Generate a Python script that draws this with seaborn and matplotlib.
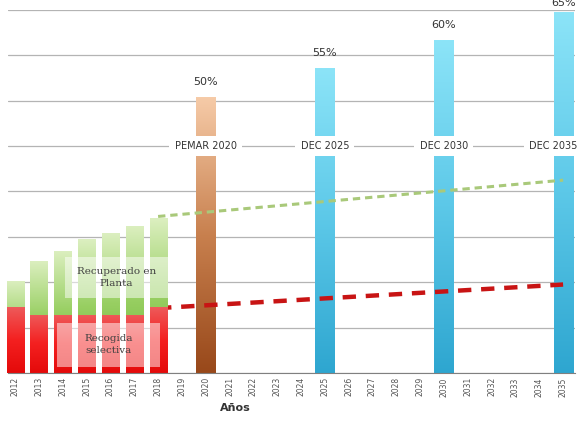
import numpy as np
import pandas as pd
import seaborn as sns
import matplotlib.pyplot as plt
from matplotlib.colors import LinearSegmentedColormap
from matplotlib.patches import Rectangle

# Datos
anios = ['2012', '2013', '2014', '2015', '2016', '2017', '2018', '2019', '2020', '2021', '2022', '2023',
         '2024', '2025', '2026', '2027', '2028', '2029', '2030', '2031', '2032', '2033', '2034', '2035']

hist_anios = ['2012', '2013', '2014', '2015', '2016', '2017', '2018']
total = [20.3, 24.7, 26.9, 29.5, 30.8, 32.4, 34.1]
recogida = [14.5, 12.8, 12.8, 12.8, 12.8, 12.8, 14.5]

obj_anios = ['2020', '2025', '2030', '2035']
obj_altura = [60.8, 67.2, 73.3, 79.5]
obj_pct = ['50%', '55%', '60%', '65%']
obj_nombre = ['PEMAR 2020', 'DEC 2025', 'DEC 2030', 'DEC 2035']

tend_anios = ['2018', '2035']
tend_planta = [34.5, 42.5]
tend_recogida = [14.3, 19.5]


def degradado(ax, barras, colores, z):
    # relleno vertical (abajo -> arriba) recortado a cada barra
    cmap = LinearSegmentedColormap.from_list('g', colores)
    grad = np.linspace(0, 1, 256).reshape(-1, 1)
    for b in barras:
        x0, y0, w, h = b.get_x(), b.get_y(), b.get_width(), b.get_height()
        im = ax.imshow(grad, cmap=cmap, origin='lower', aspect='auto',
                       extent=[x0, x0 + w, y0, y0 + h], zorder=z)
        im.set_clip_path(b)
        b.set_facecolor('none')
        b.set_edgecolor('none')


def nuevas(ax, n):
    return [p for p in ax.patches[n:] if np.isfinite(p.get_height()) and p.get_height() > 0]


sns.set_style('white')
fig = plt.figure(figsize=(5.81, 4.28), dpi=100)
ax = fig.add_axes([8 / 581, 55 / 428, 567 / 581, 363 / 428])

df_obj = pd.DataFrame({'Año': obj_anios, 'Altura': obj_altura})
df_hist = pd.DataFrame({'Año': hist_anios, 'Total': total, 'Recogida': recogida})

n = len(ax.patches)
sns.barplot(data=df_obj, x='Año', y='Altura', order=anios, width=0.8, color='#5bc8e8',
            errorbar=None, ax=ax, zorder=2)
obj_barras = nuevas(ax, n)

n = len(ax.patches)
sns.barplot(data=df_hist, x='Año', y='Total', order=anios, width=0.72, color='#a8d878',
            errorbar=None, ax=ax, zorder=3)
verdes = nuevas(ax, n)

n = len(ax.patches)
sns.barplot(data=df_hist, x='Año', y='Recogida', order=anios, width=0.72, color='#f03030',
            errorbar=None, ax=ax, zorder=3.1)
rojas = nuevas(ax, n)

# degradados
for b, a in zip(obj_barras, obj_anios):
    if a == '2020':
        degradado(ax, [b], ['#98481a', '#c8804e', '#f6cba8'], 2)
    else:
        degradado(ax, [b], ['#2ea6d0', '#5cc8e8', '#8ce4f8'], 2)
degradado(ax, verdes, ['#6cb434', '#98cf62', '#dcefc0'], 3)
degradado(ax, rojas, ['#e40a0a', '#f42020', '#ee5a5a'], 3.1)

# lineas de tendencia
xs = [anios.index(a) for a in tend_anios]
sns.lineplot(x=xs, y=tend_planta, ax=ax, color='#a9c97a', lw=2.2,
             linestyle=(0, (2.4, 1.6)), zorder=2.5)
sns.lineplot(x=xs, y=tend_recogida, ax=ax, color='#c81414', lw=3.2,
             linestyle=(0, (3.0, 2.2)), zorder=2.5)

# etiquetas de objetivos
for i, (a, h, p, nom) in enumerate(zip(obj_anios, obj_altura, obj_pct, obj_nombre)):
    x = anios.index(a)
    ultimo = i == len(obj_anios) - 1
    # la ultima etiqueta queda cortada por el borde superior, como en el original
    ax.annotate(p, (x, h), xytext=(0, 7 if ultimo else 11), textcoords='offset points',
                ha='center', va='center', fontsize=8, color='#333333', annotation_clip=False)
    ax.text(x + 0.62 if ultimo else x, 50, nom, ha='right' if ultimo else 'center', va='center',
            fontsize=7, color='#333333', zorder=6, clip_on=False,
            bbox=dict(boxstyle='square,pad=0.55', fc='white', ec='none'))

# cajas de texto sobre las barras historicas
ax.add_patch(Rectangle((2.1, 16.5), 4.3, 9.1, fc='white', ec='none', alpha=0.5, zorder=4))
ax.add_patch(Rectangle((1.76, 1.3), 4.33, 9.7, fc='white', ec='none', alpha=0.5, zorder=4))
ax.text(4.25, 21.05, 'Recuperado en\nPlanta', ha='center', va='center', fontsize=7.5,
        family='DejaVu Serif', color='#404040', zorder=5, linespacing=1.4)
ax.text(3.92, 6.2, 'Recogida\nselectiva', ha='center', va='center', fontsize=7.5,
        family='DejaVu Serif', color='#404040', zorder=5, linespacing=1.4)

ax.set_xlim(-0.3, 23.5)
ax.set_ylim(0, 80)
ax.set_yticks(range(0, 81, 10))
ax.set_yticklabels([])
ax.set_xticks(range(len(anios)))
ax.set_xticklabels(anios, rotation=90, fontsize=5.5, color='#555555')
ax.tick_params(axis='both', length=0)
ax.tick_params(axis='x', pad=3)
ax.yaxis.grid(True, color='#b4b4b4', lw=0.9)
ax.set_axisbelow(True)
ax.set_xlabel('')
ax.set_ylabel('')
for s in ['top', 'left', 'right']:
    ax.spines[s].set_visible(False)
ax.spines['bottom'].set_color('#808080')
ax.spines['bottom'].set_zorder(7)

fig.text(235 / 581, 1 - 403 / 428, 'Años', fontsize=8, fontweight='bold', ha='center',
         va='top', color='#333333')

fig.savefig('out.png', dpi=100)
